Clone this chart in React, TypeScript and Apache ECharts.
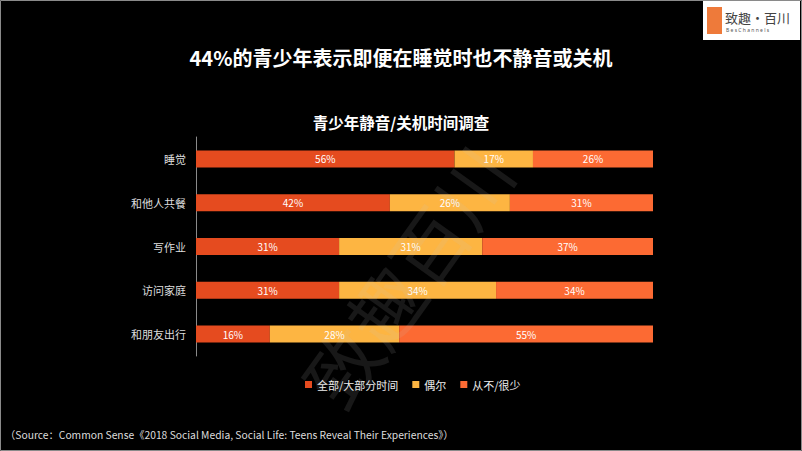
import React, { useEffect, useRef } from "react";
import * as echarts from "echarts";

const categories = ["睡觉", "和他人共餐", "写作业", "访问家庭", "和朋友出行"];
const seriesNames = ["全部/大部分时间", "偶尔", "从不/很少"];
const mostly = [56, 42, 31, 31, 16];
const sometimes = [17, 26, 31, 34, 28];
const never = [26, 31, 37, 34, 55];
const colors = ["#E54B1F", "#FDB542", "#FC6A33"];

const FONT = "'Noto Sans CJK SC', 'Noto Sans', sans-serif";

export default function App() {
  const ref = useRef<HTMLDivElement>(null);
  useEffect(() => {
    if (!ref.current) return;
    const chart = echarts.init(ref.current, null, { renderer: "svg" });
    const mk = (name: string, data: number[], color: string) => ({
      name,
      type: "bar",
      stack: "total",
      data,
      barWidth: 17,
      itemStyle: { color },
      label: {
        show: true,
        position: "inside",
        formatter: "{c}%",
        color: "#fff",
        fontSize: 10,
        fontFamily: FONT,
      },
    });
    chart.setOption({
      animation: false,
      backgroundColor: "#000",
      textStyle: { fontFamily: FONT },
      title: [
        {
          text: "44%的青少年表示即便在睡觉时也不静音或关机",
          left: "center",
          top: 42,
          textStyle: { color: "#fff", fontSize: 20, fontWeight: "bold", fontFamily: FONT },
        },
        {
          text: "青少年静音/关机时间调查",
          left: "center",
          top: 109,
          textStyle: { color: "#fff", fontSize: 15.5, fontWeight: "bold", fontFamily: FONT },
        },
      ],
      legend: {
        data: seriesNames,
        left: 300,
        top: 374,
        itemWidth: 7,
        itemHeight: 7,
        itemGap: 14,
        icon: "rect",
        textStyle: { color: "#eee", fontSize: 11, fontFamily: FONT },
      },
      grid: { left: 196, right: 149, top: 137, bottom: 95, containLabel: false },
      xAxis: { type: "value", min: 0, max: 99, show: false },
      yAxis: {
        type: "category",
        data: categories,
        inverse: true,
        axisLine: { show: true, lineStyle: { color: "#8a8a8a", width: 1 } },
        axisTick: { show: false },
        axisLabel: { color: "#ddd", fontSize: 11, margin: 10, fontFamily: FONT },
      },
      series: [
        mk(seriesNames[0], mostly, colors[0]),
        mk(seriesNames[1], sometimes, colors[1]),
        mk(seriesNames[2], never, colors[2]),
      ],
      graphic: [
        {
          type: "rect",
          shape: { x: 0.5, y: 0.5, width: 801, height: 450 },
          style: { fill: "none", stroke: "#8a8a8a", lineWidth: 1 },
          silent: true,
          z: 100,
        },
        {
          type: "text",
          x: 405,
          y: 275,
          rotation: 0.95,
          style: {
            text: "致趣百川",
            fill: "rgba(200,200,200,0.12)",
            font: "normal 74px 'Noto Sans CJK SC'",
            align: "center",
            verticalAlign: "middle",
          },
          silent: true,
          z: 50,
        },
        {
          type: "rect",
          shape: { x: 703, y: 1, width: 97, height: 39 },
          style: { fill: "#ffffff" },
          z: 60,
        },
        {
          type: "rect",
          shape: { x: 707, y: 7, width: 15, height: 27 },
          style: { fill: "#EE7A3A" },
          z: 61,
        },
        {
          type: "text",
          x: 725,
          y: 17,
          style: {
            text: "致趣·百川",
            fill: "#444",
            font: "normal 13px 'Noto Sans CJK SC'",
            verticalAlign: "middle",
          },
          z: 61,
        },
        {
          type: "text",
          x: 726,
          y: 30,
          style: {
            text: "B e s C h a n n e l s",
            fill: "#555",
            font: "normal 5px 'Noto Sans'",
            verticalAlign: "middle",
          },
          z: 61,
        },
        {
          type: "text",
          x: 5,
          y: 434,
          style: {
            text: "（Source：Common Sense《2018 Social Media, Social Life: Teens Reveal Their Experiences》）",
            fill: "#ddd",
            font: "normal 10.3px 'Noto Sans CJK SC'",
            verticalAlign: "middle",
          },
        },
      ],
    });
    return () => chart.dispose();
  }, []);
  return (
    <div
      ref={ref}
      style={{ position: "fixed", left: 0, top: 0, width: 802, height: 451 }}
    />
  );
}
